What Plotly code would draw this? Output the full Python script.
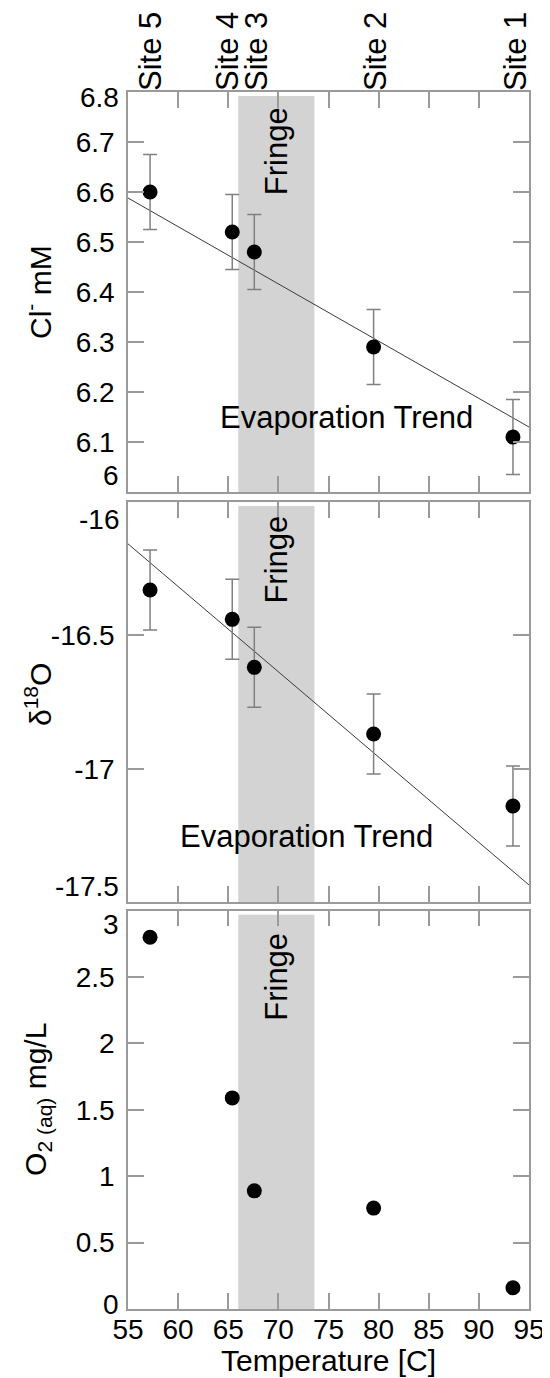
import plotly.graph_objects as go

# ---------------- data ----------------
temperature = [57.2, 65.4, 67.6, 79.5, 93.4]
site_names = ["Site 5", "Site 4", "Site 3", "Site 2", "Site 1"]
site_label_T = [57.3, 65.0, 67.9, 79.7, 93.7]

chloride = [6.60, 6.52, 6.48, 6.29, 6.11]
chloride_err = [0.075, 0.075, 0.075, 0.075, 0.075]

d18o = [-16.33, -16.44, -16.62, -16.87, -17.14]
d18o_err = [0.15, 0.15, 0.15, 0.15, 0.15]

oxygen = [2.80, 1.59, 0.89, 0.76, 0.16]

trend_T = [55, 95]
chloride_trend = [6.588, 6.13]
d18o_trend = [-16.157, -17.436]

fringe_T = [66.0, 73.6]

x_ticks = [55, 60, 65, 70, 75, 80, 85, 90, 95]
cl_ticks = [6.0, 6.1, 6.2, 6.3, 6.4, 6.5, 6.6, 6.7, 6.8]
cl_ticktext = ["6", "6.1", "6.2", "6.3", "6.4", "6.5", "6.6", "6.7", "6.8"]
d18o_ticks = [-17.5, -17.0, -16.5, -16.0]
d18o_ticktext = ["-17.5", "-17", "-16.5", "-16"]
o2_ticks = [0, 0.5, 1, 1.5, 2, 2.5, 3]
o2_ticktext = ["0", "0.5", "1", "1.5", "2", "2.5", "3"]

# ---------------- styling ----------------
FONT = "Arial, Liberation Sans, sans-serif"
AXIS_GRAY = "#9a9a9a"
TICK_SIZE = 28
TEXT_SIZE = 31

fig = go.Figure()

marker = dict(color="black", size=15)
err_style = dict(type="data", color="#808080", thickness=1.5, width=7, visible=True)
line_style = dict(color="#3a3a3a", width=1)

# Panel 1: chloride
fig.add_trace(go.Scatter(x=trend_T, y=chloride_trend, mode="lines", line=line_style,
                         xaxis="x", yaxis="y", showlegend=False, hoverinfo="skip"))
fig.add_trace(go.Scatter(x=temperature, y=chloride, mode="markers", marker=marker,
                         error_y=dict(array=chloride_err, **err_style),
                         xaxis="x", yaxis="y", showlegend=False))
# invisible trace to carry the site-label axis
fig.add_trace(go.Scatter(x=site_label_T, y=chloride, mode="markers",
                         marker=dict(opacity=0), xaxis="x4", yaxis="y",
                         showlegend=False, hoverinfo="skip"))

# Panel 2: d18O
fig.add_trace(go.Scatter(x=trend_T, y=d18o_trend, mode="lines", line=line_style,
                         xaxis="x2", yaxis="y2", showlegend=False, hoverinfo="skip"))
fig.add_trace(go.Scatter(x=temperature, y=d18o, mode="markers", marker=marker,
                         error_y=dict(array=d18o_err, **err_style),
                         xaxis="x2", yaxis="y2", showlegend=False))

# Panel 3: O2
fig.add_trace(go.Scatter(x=temperature, y=oxygen, mode="markers", marker=marker,
                         xaxis="x3", yaxis="y3", showlegend=False))

axis_common = dict(showline=True, linecolor=AXIS_GRAY, linewidth=1.5, mirror="ticks",
                   ticks="inside", ticklen=16, tickwidth=1.5, tickcolor=AXIS_GRAY,
                   showgrid=False, zeroline=False, automargin=False,
                   tickfont=dict(family=FONT, size=TICK_SIZE, color="black"))

dom1 = [0.6713, 1.0]
dom2 = [0.3344, 0.6631]
dom3 = [0.0, 0.3273]

# the page body has an 8px margin, so the figure is 8px smaller than the window
fig.update_layout(
    width=542, height=1370,
    margin=dict(l=120, r=21, t=84, b=69, autoexpand=False),
    paper_bgcolor="white", plot_bgcolor="white",
    font=dict(family=FONT, color="black"),
    xaxis=dict(domain=[0, 1], anchor="y", range=[55, 95], tickmode="array",
               tickvals=x_ticks, showticklabels=False, **axis_common),
    xaxis2=dict(domain=[0, 1], anchor="y2", range=[55, 95], tickmode="array",
                tickvals=x_ticks, showticklabels=False, **axis_common),
    xaxis3=dict(domain=[0, 1], anchor="y3", range=[55, 95], tickmode="array",
                tickvals=x_ticks, ticktext=[str(v) for v in x_ticks],
                ticklabelstandoff=-5, **axis_common),
    xaxis4=dict(overlaying="x", anchor="y", side="top", range=[55, 95],
                tickmode="array", tickvals=site_label_T, ticktext=site_names,
                tickangle=-90, ticks="", showline=False, showgrid=False,
                zeroline=False, ticklabelstandoff=0, automargin=False,
                tickfont=dict(family=FONT, size=TEXT_SIZE, color="black")),
    yaxis=dict(domain=dom1, anchor="x", range=[6.0, 6.8], tickmode="array",
               tickvals=cl_ticks[1:-1], ticktext=cl_ticktext[1:-1],
               ticklabelstandoff=6, **axis_common),
    yaxis2=dict(domain=dom2, anchor="x2", range=[-17.5, -16.0], tickmode="array",
                tickvals=d18o_ticks[1:-1], ticktext=d18o_ticktext[1:-1],
                ticklabelstandoff=6, **axis_common),
    yaxis3=dict(domain=dom3, anchor="x3", range=[0, 3], tickmode="array",
                tickvals=o2_ticks[1:-1], ticktext=o2_ticktext[1:-1],
                ticklabelstandoff=6, **axis_common),
)

# Fringe bands
for xr, yr in [("x", "y"), ("x2", "y2"), ("x3", "y3")]:
    fig.add_shape(type="rect", xref=xr, yref=yr + " domain",
                  x0=fringe_T[0], x1=fringe_T[1], y0=0.0, y1=0.99,
                  fillcolor="#d3d3d3", line=dict(width=0), layer="below")

annotations = []
fringe_mid = (fringe_T[0] + fringe_T[1]) / 2
for xr, yr, yf in [("x", "y", 0.853), ("x2", "y2", 0.857), ("x3", "y3", 0.835)]:
    annotations.append(dict(text="Fringe", xref=xr, yref=yr + " domain",
                            x=fringe_mid, y=yf, textangle=-90, showarrow=False,
                            xanchor="center", yanchor="middle",
                            font=dict(family=FONT, size=TEXT_SIZE, color="black")))

annotations.append(dict(text="Evaporation Trend", xref="x", yref="y domain",
                        x=76.75, y=0.1875, showarrow=False,
                        xanchor="center", yanchor="middle",
                        font=dict(family=FONT, size=TEXT_SIZE, color="black")))
annotations.append(dict(text="Evaporation Trend", xref="x2", yref="y2 domain",
                        x=72.85, y=0.165, showarrow=False,
                        xanchor="center", yanchor="middle",
                        font=dict(family=FONT, size=TEXT_SIZE, color="black")))

# y-axis titles
title_x = (38 - 128) / 401
for yr, yf, txt in [("y", 0.5, "Cl<sup>-</sup> mM"),
                    ("y2", 0.5175, "\u03b4<sup>18</sup>O"),
                    ("y3", 0.525, "O<sub>2 (aq)</sub> mg/L")]:
    annotations.append(dict(text=txt, xref="paper", yref=yr + " domain",
                            x=title_x, y=yf, textangle=-90, showarrow=False,
                            xanchor="center", yanchor="middle",
                            font=dict(family=FONT, size=30, color="black")))

# x-axis title
annotations.append(dict(text="Temperature [C]", xref="paper", yref="paper",
                        x=0.5, y=-(1360 - 1309) / 1217, showarrow=False,
                        xanchor="center", yanchor="middle",
                        font=dict(family=FONT, size=30, color="black")))

# end tick labels (shifted inward as in the reference)
ends = [("y", cl_ticks[-1], cl_ticktext[-1], -5), ("y", cl_ticks[0], cl_ticktext[0], 17),
        ("y2", d18o_ticks[-1], d18o_ticktext[-1], -17), ("y2", d18o_ticks[0], d18o_ticktext[0], 16),
        ("y3", o2_ticks[-1], o2_ticktext[-1], -14), ("y3", o2_ticks[0], o2_ticktext[0], 4)]
for yr, val, txt, shift in ends:
    annotations.append(dict(text=txt, xref="paper", yref=yr, x=0, y=val,
                            xanchor="right", yanchor="middle", xshift=-7, yshift=shift,
                            showarrow=False,
                            font=dict(family=FONT, size=TICK_SIZE, color="black")))

fig.update_layout(annotations=annotations)

fig.write_html("out.html")
